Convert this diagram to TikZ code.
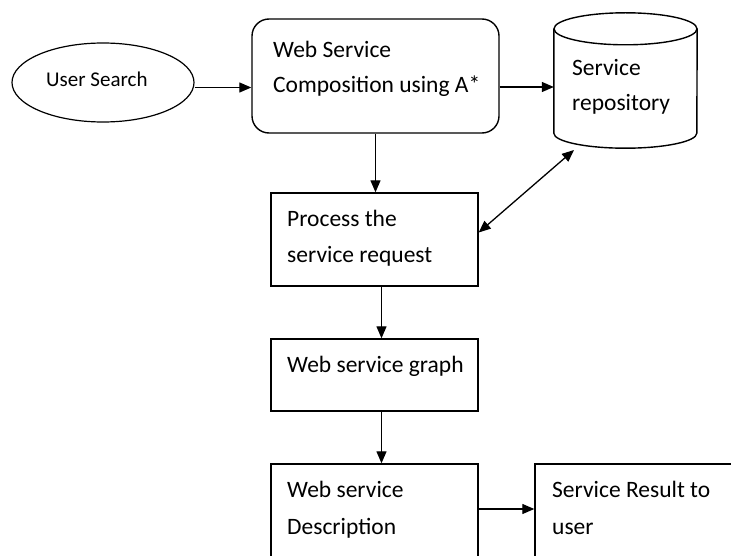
\documentclass[tikz,border=0pt]{standalone}
\usepackage{fontspec}
\setmainfont{Carlito}
\usetikzlibrary{arrows.meta,shapes.geometric}
\begin{document}
\begin{tikzpicture}[x=1pt,y=-1pt,
  box/.style={draw,line width=1.4pt,inner sep=0pt},
  arr/.style={line width=1.3pt,-{Triangle[length=12pt,width=10pt]}},
  darr/.style={line width=1.3pt,{Triangle[length=12pt,width=10pt]}-{Triangle[length=12pt,width=10pt]}},
  txt/.style={anchor=base west,inner sep=0pt,font=\fontsize{23.5}{28}\selectfont},
  stxt/.style={anchor=base west,inner sep=0pt,font=\fontsize{21}{26}\selectfont},
]
\path[use as bounding box,clip] (0,0) rectangle (731,556);
\fill[white] (0,0) rectangle (731,556);

% shapes
\node[ellipse,draw,line width=1.2pt,minimum width=182pt,minimum height=79pt,inner sep=0pt] (user) at (103,82.5) {};
\node[box,rounded corners=17pt,minimum width=247pt,minimum height=114pt] (comp) at (375.5,76) {};
\node[inner sep=0pt,minimum width=143pt,minimum height=135pt] (repo) at (625.5,80.5) {};
\draw[line width=1.4pt] ([yshift=-16pt]repo.north) ellipse [x radius=71.5pt,y radius=16pt];
\draw[line width=1.4pt] ([yshift=-16pt]repo.north west) -- ([yshift=15pt]repo.south west)
  arc[start angle=180,end angle=360,x radius=71.5pt,y radius=15pt] -- ([yshift=-16pt]repo.north east);
\node[box,minimum width=207pt,minimum height=93pt] (proc) at (374.5,239.5) {};
\node[box,minimum width=207pt,minimum height=72pt] (graph) at (374.5,375) {};
\node[box,minimum width=207pt,minimum height=96pt] (desc) at (374.5,512) {};
\node[box,minimum width=210pt,minimum height=96pt] (result) at (640,512) {};
\coordinate (rb) at (574,150);

% texts
\node[stxt] (tuser) at (46,87) {User Search};
\node[txt] (tcomp1) at (273,58) {Web Service};
\node[txt] (tcomp2) at (273,93) {Composition using A*};
\node[txt] (trepo1) at (572,76) {Service};
\node[txt] (trepo2) at (572,111) {repository};
\node[txt] (tproc1) at (287,226) {Process the};
\node[txt] (tproc2) at (287,262) {service request};
\node[txt] (tgraph) at (287,372) {Web service graph};
\node[txt] (tdesc1) at (287,497.5) {Web service};
\node[txt] (tdesc2) at (287,534) {Description};
\node[txt] (tres1) at (552,497.5) {Service Result to};
\node[txt] (tres2) at (552,534) {user};

% connectors
\draw[arr] ([yshift=-5pt]user.east) -- ([yshift=-5pt]user.east -| comp.west);
\draw[arr] ([yshift=-11pt]comp.east) -- ([yshift=-11pt]comp.east -| repo.west);
\draw[arr] (comp.south) -- (comp.south |- proc.north);
\draw[darr] ([yshift=7pt]proc.east) -- (rb);
\draw[arr] ([xshift=7pt]proc.south) -- ([xshift=7pt]graph.north);
\draw[arr] ([xshift=7pt]graph.south) -- ([xshift=7pt]desc.north);
\draw[arr] ([yshift=3pt]desc.east) -- ([yshift=3pt]desc.east -| result.west);
\end{tikzpicture}
\end{document}
